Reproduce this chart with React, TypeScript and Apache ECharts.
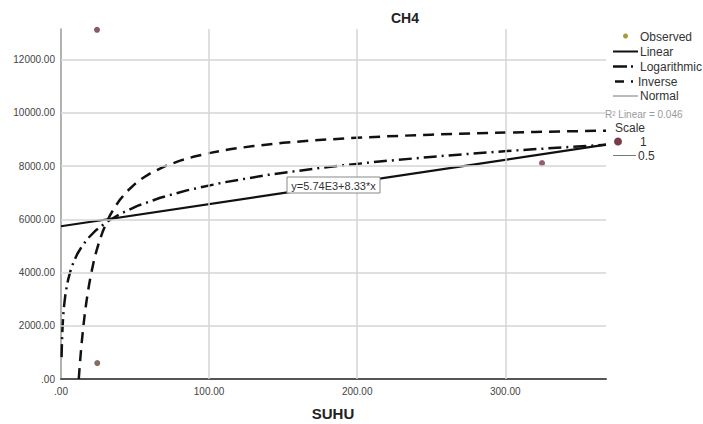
import React, { useEffect, useRef } from "react";
import * as echarts from "echarts";

const xTicks = [0, 100, 200, 300];
const yTicks = [0, 2000, 4000, 6000, 8000, 10000, 12000];
const xMax = 368;
const yMax = 13150;

const observed: [number, number][] = [
  [24.3, 13120],
  [24.5, 600],
  [324.8, 8110],
];
const observedColors = ["#6b2f40", "#6a4834", "#7a3545"];

const linearFit: [number, number][] = [
  [0, 5740],
  [368, 8805],
];

const logFit: [number, number][] = [
  [0.4, 822], [0.5, 1083], [0.7, 1476], [1, 1893], [1.3, 2200], [1.7, 2514],
  [2.2, 2815], [3, 3178], [4, 3514], [5, 3774], [6.5, 4081], [8.5, 4395],
  [11, 4696], [14, 4978], [18, 5272], [23, 5558], [30, 5869], [40, 6205],
  [52, 6512], [67, 6809], [85, 7087], [110, 7388], [140, 7670], [175, 7931],
  [215, 8172], [260, 8394], [310, 8600], [368, 8800],
];

const inverseFit: [number, number][] = [
  [12, 0], [12.5, 386], [13, 742], [13.5, 1071], [14, 1378], [15, 1929],
  [16, 2411], [17, 2836], [18, 3215], [19, 3553], [20, 3858], [22, 4384],
  [24, 4822], [26, 5193], [28, 5511], [30, 5786], [33, 6137], [36, 6429],
  [40, 6751], [45, 7072], [50, 7329], [55, 7540], [60, 7715], [70, 7991],
  [80, 8197], [90, 8358], [100, 8487], [115, 8638], [130, 8754], [150, 8872],
  [170, 8963], [195, 9050], [220, 9118], [250, 9181], [280, 9231], [320, 9282],
  [368, 9330],
];

const titleText = "CH4";
const xName = "SUHU";
const equationText = "y=5.74E3+8.33*x";
const r2Text = "R² Linear = 0.046";
const legendNames = ["Observed", "Linear", "Logarithmic", "Inverse", "Normal"];
const scaleNames = ["Scale", "1", "0.5"];

const FONT = '"Liberation Sans", Arial, sans-serif';

const fmt = (v: number) => (v === 0 ? ".00" : v.toFixed(2));

export default function App() {
  const ref = useRef<HTMLDivElement>(null);
  useEffect(() => {
    document.body.style.margin = "0";
    if (!ref.current) return;
    const chart = echarts.init(ref.current, undefined, { renderer: "svg" });
    const lx = 613;
    const tx = 640;
    const txtStyle = (text: string, x: number, y: number, extra: any = {}) => ({
      type: "text",
      style: {
        text,
        x,
        y,
        fill: "#333",
        font: `12px ${FONT}`,
        textVerticalAlign: "middle",
        ...extra,
      },
    });
    const option: any = {
      animation: false,
      textStyle: { fontFamily: FONT },
      grid: { left: 61, right: 97, top: 29, bottom: 45 },
      xAxis: {
        type: "value",
        min: 0,
        max: xMax,
        interval: 100,
        axisLine: { show: true, lineStyle: { color: "#555", width: 2 } },
        axisTick: { show: false },
        splitLine: { show: false },
        axisLabel: {
          formatter: fmt,
          color: "#444",
          fontSize: 10,
          margin: 7,
          showMaxLabel: false,
          fontFamily: FONT,
        },
      },
      yAxis: {
        type: "value",
        min: 0,
        max: yMax,
        interval: 2000,
        axisLine: { show: true, lineStyle: { color: "#999", width: 1.5 } },
        axisTick: { show: false },
        splitLine: { show: false },
        axisLabel: {
          formatter: fmt,
          color: "#444",
          fontSize: 10,
          margin: 6,
          showMaxLabel: false,
          fontFamily: FONT,
        },
      },
      series: [
        {
          type: "line",
          data: [],
          z: 0,
          silent: true,
          markLine: {
            silent: true,
            symbol: ["none", "none"],
            label: { show: false },
            animation: false,
            lineStyle: { color: "#d4d4d4", width: 1.5, type: "solid" },
            data: [
              ...xTicks.filter((v) => v > 0).map((v) => ({ xAxis: v })),
              ...yTicks.filter((v) => v > 0).map((v) => ({ yAxis: v })),
            ],
          },
        },
        {
          type: "line",
          data: linearFit,
          showSymbol: false,
          z: 3,
          lineStyle: { color: "#111", width: 2.2, type: "solid" },
        },
        {
          type: "line",
          data: logFit,
          showSymbol: false,
          z: 3,
          lineStyle: { color: "#111", width: 2.5, type: [13, 5, 2, 5] },
        },
        {
          type: "line",
          data: inverseFit,
          showSymbol: false,
          z: 3,
          lineStyle: { color: "#111", width: 2.5, type: [11, 7] },
        },
        {
          type: "scatter",
          symbolSize: 6,
          z: 4,
          data: observed.map((p, i) => ({
            value: p,
            itemStyle: { color: observedColors[i] },
          })),
        },
      ],
      graphic: [
        {
          type: "text",
          style: {
            text: titleText,
            x: 405,
            y: 18,
            fill: "#222",
            font: `bold 14px ${FONT}`,
            textAlign: "center",
            textVerticalAlign: "middle",
          },
        },
        {
          type: "text",
          style: {
            text: xName,
            x: 333,
            y: 413,
            fill: "#222",
            font: `bold 15px ${FONT}`,
            textAlign: "center",
            textVerticalAlign: "middle",
          },
        },
        {
          type: "rect",
          shape: { x: 287, y: 177, width: 93, height: 16 },
          style: { fill: "#fff", stroke: "#888", lineWidth: 1 },
          z: 10,
        },
        {
          type: "text",
          z: 11,
          style: {
            text: equationText,
            x: 333.5,
            y: 185.5,
            fill: "#333",
            font: `11px ${FONT}`,
            textAlign: "center",
            textVerticalAlign: "middle",
          },
        },
        // legend
        { type: "circle", shape: { cx: 625.5, cy: 36, r: 2.5 }, style: { fill: "#a89a3c" } },
        txtStyle(legendNames[0], tx, 37),
        { type: "line", shape: { x1: lx, y1: 51.5, x2: 638, y2: 51.5 }, style: { stroke: "#111", lineWidth: 2 } },
        txtStyle(legendNames[1], tx, 52),
        { type: "line", shape: { x1: lx, y1: 66.5, x2: 627, y2: 66.5 }, style: { stroke: "#111", lineWidth: 2.5 } },
        { type: "line", shape: { x1: 631, y1: 66.5, x2: 633, y2: 66.5 }, style: { stroke: "#111", lineWidth: 2.5 } },
        txtStyle(legendNames[2], tx, 67),
        { type: "line", shape: { x1: 615, y1: 81.5, x2: 624, y2: 81.5 }, style: { stroke: "#111", lineWidth: 2.5 } },
        { type: "line", shape: { x1: 631, y1: 81.5, x2: 633, y2: 81.5 }, style: { stroke: "#111", lineWidth: 2.5 } },
        txtStyle(legendNames[3], tx - 2, 82),
        { type: "line", shape: { x1: lx, y1: 96, x2: 638, y2: 96 }, style: { stroke: "#777", lineWidth: 1 } },
        txtStyle(legendNames[4], tx, 96),
        txtStyle(r2Text, 605, 114, { fill: "#9a9a9a", font: `10px ${FONT}` }),
        txtStyle(scaleNames[0], 615, 128, { font: `12px ${FONT}` }),
        { type: "circle", shape: { cx: 618, cy: 141.5, r: 4 }, style: { fill: "#7a3a4c" } },
        txtStyle(scaleNames[1], 640, 142, { font: `12px ${FONT}` }),
        { type: "line", shape: { x1: lx, y1: 155.5, x2: 636, y2: 155.5 }, style: { stroke: "#777", lineWidth: 1 } },
        txtStyle(scaleNames[2], 638, 156, { font: `12px ${FONT}` }),
      ],
    };
    chart.setOption(option);
    return () => chart.dispose();
  }, []);
  return <div ref={ref} style={{ width: 703, height: 424 }} />;
}
